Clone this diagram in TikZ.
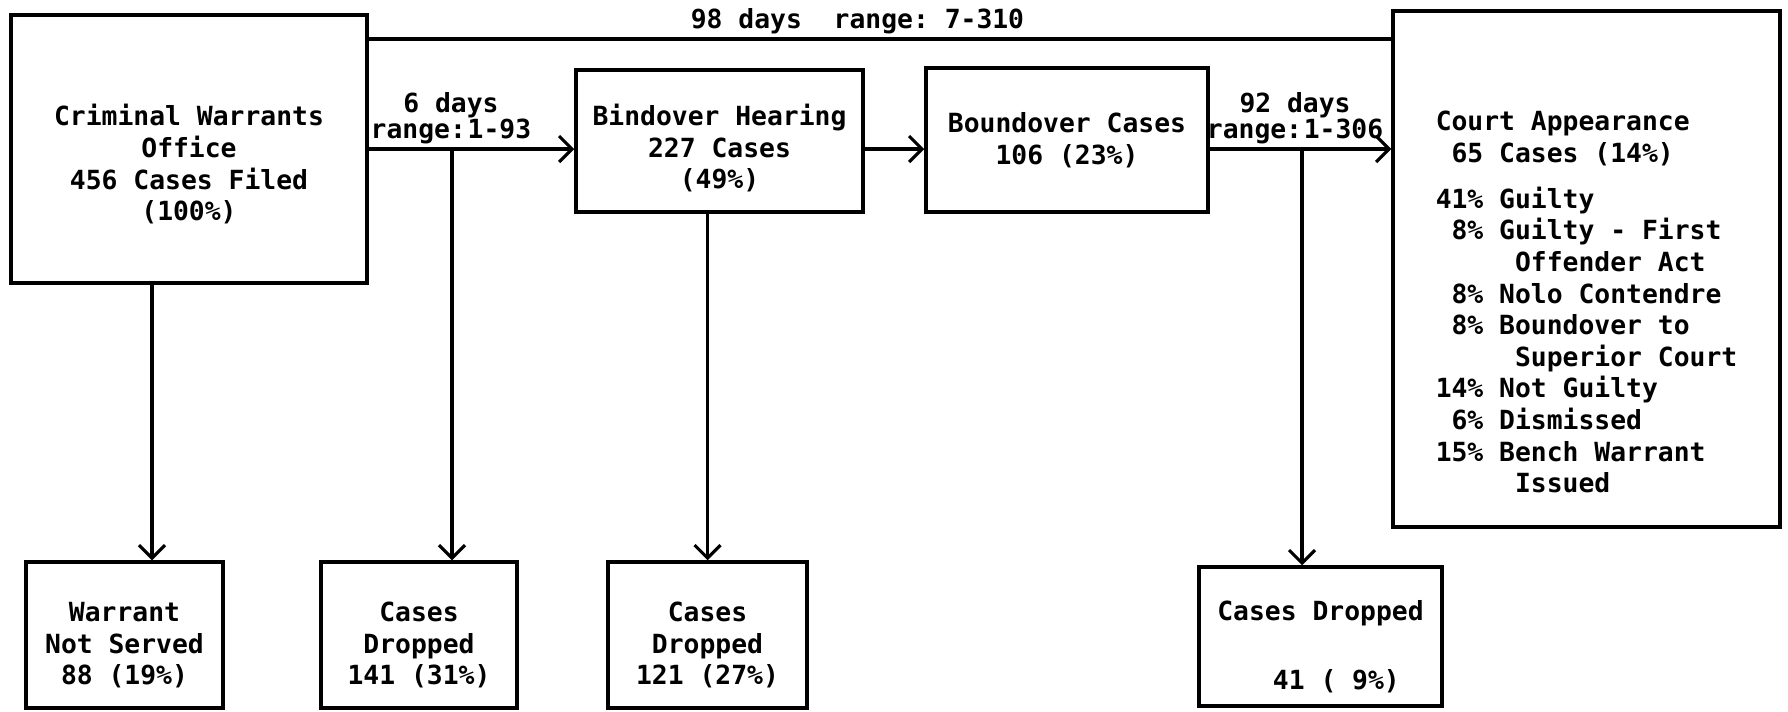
\documentclass[tikz,border=0pt]{standalone}
\usepackage{fontspec}
\setmonofont{DejaVu Sans Mono}
\usetikzlibrary{arrows.meta}
\newcommand{\topgap}[1]{\rule{0pt}{#1}}

\tikzset{
  box/.style={draw, line width=2pt, align=center, inner sep=0pt},
  flow/.style={line width=1.8pt, -{Straight Barb[length=2.6mm,width=5.2mm]}},
  days/.style={above, inner sep=2pt, align=center}
}

\begin{document}
\begin{tikzpicture}[line width=1.8pt, every node/.append style={font=\ttfamily\bfseries\fontsize{15}{18}\selectfont}]
  \useasboundingbox (0,0) rectangle (35.76,-14.22);
  % main row
  \node[box, minimum width=7.12cm, minimum height=5.36cm] (cwo) at (3.78,-2.98)
    {\topgap{1.04cm}Criminal Warrants\\Office\\456 Cases Filed\\(100\%)};
  \node[box, minimum width=5.74cm, minimum height=2.84cm] (bindover) at (14.39,-2.82)
    {\topgap{0.72cm}Bindover Hearing\\227 Cases\\(49\%)};
  \node[box, minimum width=5.64cm, minimum height=2.88cm] (boundover) at (21.34,-2.80)
    {Boundover Cases\\106 (23\%)};
  \node[box, minimum width=7.74cm, minimum height=10.32cm, align=left] (court) at (31.73,-5.38)
    {\topgap{1.72cm}Court Appearance\\
     \hphantom{0}65 Cases (14\%)\\[8pt]
     41\% Guilty\\
     \hphantom{0}8\% Guilty - First\\
     \hphantom{00000}Offender Act\\
     \hphantom{0}8\% Nolo Contendre\\
     \hphantom{0}8\% Boundover to\\
     \hphantom{00000}Superior Court\\
     14\% Not Guilty\\
     \hphantom{0}6\% Dismissed\\
     15\% Bench Warrant\\
     \hphantom{00000}Issued};
  % bottom row
  \node[box, minimum width=3.94cm, minimum height=2.92cm] (notserved) at (2.49,-12.70)
    {\topgap{0.8cm}Warrant\\Not Served\\88 (19\%)};
  \node[box, minimum width=3.92cm, minimum height=2.92cm] (drop1) at (8.38,-12.70)
    {\topgap{0.8cm}Cases\\Dropped\\141 (31\%)};
  \node[box, minimum width=3.98cm, minimum height=2.92cm] (drop2) at (14.15,-12.70)
    {\topgap{0.8cm}Cases\\Dropped\\121 (27\%)};
  \node[box, minimum width=4.86cm, minimum height=2.78cm] (drop3) at (26.41,-12.73)
    {\topgap{0.8cm}Cases Dropped\\[21pt]\hphantom{00}41 ( 9\%)};

  \coordinate (topline) at (0,-0.78);
  \coordinate (mainline) at (0,-2.98);
  \coordinate (split1) at (9.04,-2.98);
  \coordinate (split2) at (26.04,-2.98);
  \coordinate (wns) at (3.04,0);

  % connectors
  \draw (cwo.east |- topline) -- node[days, pos=0.478] {98 days~~range: 7-310} (court.west |- topline);
  \draw[flow] (cwo.east |- mainline) -- node[days, pos=0.40] {6 days\\[-3pt]range:\kern1pt 1-93} (bindover.west |- mainline);
  \draw[flow] (bindover.east |- mainline) -- (boundover.west |- mainline);
  \draw[flow] (boundover.east |- mainline) -- node[days, pos=0.47] {92 days\\[-3pt]range:\kern1pt 1-306} (court.west |- mainline);
  \draw[flow] (cwo.south -| wns) -- (notserved.north -| wns);
  \draw[flow] (split1) -- (split1 |- drop1.north);
  \draw[flow] (bindover.south -| drop2.north) -- (drop2.north);
  \draw[flow] (split2) -- (split2 |- drop3.north);
\end{tikzpicture}
\end{document}
